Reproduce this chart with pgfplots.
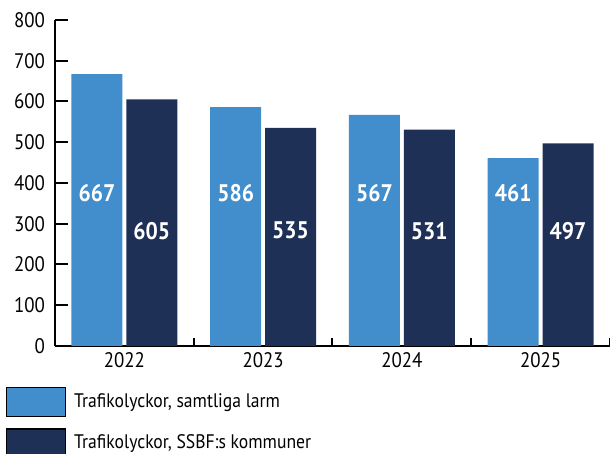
\documentclass[border=0pt]{standalone}
\usepackage{pgfplots}
\pgfplotsset{compat=1.18}
\usepackage{fontspec}
\setmainfont{PT Sans}[FakeStretch=0.9]
\usetikzlibrary{calc}
\definecolor{ljus}{HTML}{428DCC}
\definecolor{mork}{HTML}{1F3057}

\begin{document}
\begin{tikzpicture}
\begin{axis}[
  width=277.5pt, height=163pt, scale only axis,
  axis lines=left,
  axis line style={-, line width=1.2pt, black},
  xmin=-0.5, xmax=3.5,
  ymin=0, ymax=800,
  ytick={0,100,...,800},
  xtick={0,1,2,3}, xticklabels={2022,2023,2024,2025},
  minor xtick={0.5,1.5,2.5,3.5},
  major x tick style={draw=none},
  tick align=inside,
  tick style={black, line width=1pt},
  major tick length=6.5pt,
  minor tick length=4pt,
  ticklabel style={font=\fontsize{10.5}{12}\selectfont},
  yticklabel style={xshift=-1.5pt},
  /pgf/number format/assume math mode=true,
  clip=false,
  legend style={at={(-0.089,-0.125)}, anchor=north west, draw=none, fill=none,
    inner sep=0pt, row sep=5.5pt,
    font=\fontsize{9.8}{12}\selectfont,
    nodes={inner xsep=4pt, inner ysep=0pt}},
  legend cell align=left,
  legend image code/.code={\draw[#1, draw=black, line width=0.6pt] (0pt,-7.25pt) rectangle (29.5pt,7.25pt);},
]
\addplot[ybar, bar width=0.3676, bar shift=-0.198, fill=ljus, draw=none]
  coordinates {(0,667) (1,586) (2,567) (3,461)};
\addlegendentry{Trafikolyckor, samtliga larm}
\addplot[ybar, bar width=0.3676, bar shift=0.198, fill=mork, draw=none]
  coordinates {(0,605) (1,535) (2,531) (3,497)};
\addlegendentry{Trafikolyckor, SSBF:s kommuner}

\addplot[draw=none, mark=none, forget plot, nodes near coords, point meta=explicit symbolic,
  every node near coord/.style={anchor=center, text=white, font=\bfseries\fontsize{12}{14}\selectfont}]
  coordinates {(-0.198,375)[667] (0.802,375)[586] (1.802,375)[567] (2.802,375)[461]};
\addplot[draw=none, mark=none, forget plot, nodes near coords, point meta=explicit symbolic,
  every node near coord/.style={anchor=center, text=white, font=\bfseries\fontsize{12}{14}\selectfont}]
  coordinates {(0.198,283)[605] (1.198,283)[535] (2.198,283)[531] (3.198,283)[497]};
\end{axis}
\pgfresetboundingbox
\path[use as bounding box] ($(current axis.south west)+(-27.5pt,-54pt)$) rectangle ($(current axis.north east)+(0pt,10pt)$);
\end{tikzpicture}
\end{document}
